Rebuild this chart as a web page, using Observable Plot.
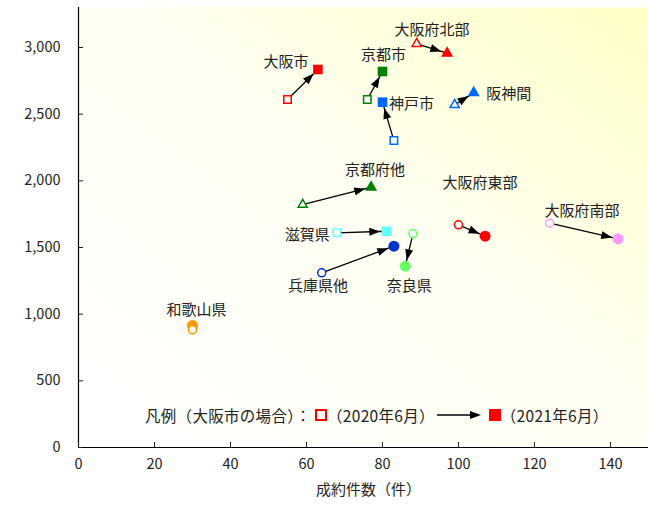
<!DOCTYPE html>
<html><head><meta charset="utf-8">
<script src="https://cdn.jsdelivr.net/npm/d3@7"></script>
<script src="https://cdn.jsdelivr.net/npm/@observablehq/plot@0.6"></script>
<style>
body{margin:0;background:#fff;font-family:"Noto Sans CJK JP",sans-serif;}
#wrap{position:relative;width:648px;height:505px;}
#legend{position:absolute;left:145px;top:404px;font-size:15.5px;line-height:22px;color:#222;display:flex;align-items:center;white-space:nowrap;letter-spacing:0.3px;}
#legend .sq{display:inline-block;box-sizing:border-box;width:12px;height:12px;margin:0 0 0 4px;}
</style></head><body><div id="wrap"></div>
<script>
// ---- data ----
const regions = ["大阪市","大阪府北部","大阪府東部","大阪府南部","京都市","京都府他","神戸市","阪神間","兵庫県他","滋賀県","奈良県","和歌山県"];
const count2020 = [55, 89, 100, 124, 76, 59, 83, 99, 64, 68, 88, 30];
const price2020 = [2610, 3028, 1670, 1682, 2610, 1822, 2302, 2570, 1310, 1610, 1603, 883];
const count2021 = [63, 97, 107, 142, 80, 77, 80, 104, 83, 81, 86, 30];
const price2021 = [2835, 2957, 1585, 1565, 2820, 1952, 2590, 2660, 1510, 1622, 1360, 915];
const xTicks = [0, 20, 40, 60, 80, 100, 120, 140];
const yTicks = [0, 500, 1000, 1500, 2000, 2500, 3000];
const xTitle = "成約件数（件）";

// ---- styles / layout ----
const shapes = ["square","triangle","circle","circle","square","triangle","square","triangle","circle","square","circle","circle"];
const colors = ["#ff0000","#ff0000","#ff0000","#ff99ff","#008000","#008000","#0066ff","#0066ff","#0033cc","#66ffff","#66ff66","#ff9900"];
const labelDx = [-32, -15, -5, -36, 1, 4, 29, 35, -76, -79, 4, 4];
const labelDy = [-7, -23, -53, -28, -16, -17, 2, 1, 40, 4, 20, -15];
const filledR = {square: 5.4, triangle: 4.5, circle: 5.5};
const openR = {square: 4.2, triangle: 3.4, circle: 4};

const data = regions.map((name, i) => ({name, x0: count2020[i], y0: price2020[i], x1: count2021[i], y1: price2021[i], shape: shapes[i], col: colors[i], dx: labelDx[i], dy: labelDy[i]}));
const font = "Noto Sans CJK JP";
const fmt = d3.format(",");

const plot = Plot.plot({
  width: 648, height: 505,
  marginLeft: 78, marginRight: 0, marginTop: 7, marginBottom: 58,
  x: {domain: [0, 150]},
  y: {domain: [0, 3300]},
  color: {type: "identity"},
  style: {fontFamily: font, fontSize: "14px", color: "#222", background: "transparent"},
  marks: [
    Plot.frame({fill: "url(#bgGrad)"}),
    Plot.link(data, {x1: "x0", y1: "y0", x2: "x1", y2: "y1", stroke: "black", strokeWidth: 1.3}),
    ...["square","triangle","circle"].map(sym => Plot.dot(data.filter(d => d.shape === sym), {x: "x1", y: "y1", symbol: sym, r: filledR[sym], fill: d => d.col, stroke: "none"})),
    ...["square","triangle","circle"].map(sym => Plot.dot(data.filter(d => d.shape === sym), {x: "x0", y: "y0", symbol: sym, r: openR[sym], fill: "white", stroke: d => d.col, strokeWidth: 1.5})),
    ...data.map(d => Plot.text([d], {x: "x1", y: "y1", text: "name", dx: d.dx, dy: d.dy, fontSize: 15, fill: "#222"})),
    Plot.ruleX([0], {stroke: "black", strokeWidth: 1.2}),
    Plot.ruleY([0], {stroke: "black", strokeWidth: 1.2}),
    Plot.axisX({ticks: xTicks, tickSize: -5, tickPadding: 16, label: null, fontSize: 14.5}),
    Plot.axisY({ticks: yTicks, tickFormat: fmt, tickSize: -5, tickPadding: 23, label: null, fontSize: 14.5}),
    Plot.text([xTitle], {frameAnchor: "bottom", dy: 47, dx: 5, fontSize: 15, fill: "#222"})
  ]
});

const wrap = document.getElementById("wrap");
wrap.appendChild(plot);

const svg = d3.select(plot);
const defs = svg.insert("defs", ":first-child");
const grad = defs.append("linearGradient").attr("id", "bgGrad").attr("x1", 0).attr("y1", 1).attr("x2", 1).attr("y2", 0);
grad.append("stop").attr("offset", "0%").attr("stop-color", "#ffffff");
grad.append("stop").attr("offset", "55%").attr("stop-color", "#fffff2");
grad.append("stop").attr("offset", "100%").attr("stop-color", "#ffffc6");
defs.append("marker").attr("id", "ah").attr("viewBox", "0 0 11 8").attr("refX", 17).attr("refY", 4)
  .attr("markerWidth", 11).attr("markerHeight", 8).attr("markerUnits", "userSpaceOnUse").attr("orient", "auto")
  .style("overflow", "visible")
  .append("path").attr("d", "M0,0L11,4L0,8Z").attr("fill", "black");
svg.selectAll('g[aria-label="link"] path').each(function() {
  if (this.getTotalLength() < 15) this.remove();
  else this.setAttribute("marker-end", "url(#ah)");
});

// legend
const lg = document.createElement("div");
lg.id = "legend";
lg.innerHTML = '<span>凡例（大阪市の場合）：</span>' +
  '<span class="sq" style="border:2px solid #ff0000;background:#fff"></span>' +
  '<span>（2020年6月）</span>' +
  '<svg width="44" height="10" style="margin:0 4px 0 2px"><line x1="0" y1="5" x2="34" y2="5" stroke="black" stroke-width="1.3"/><path d="M33,1L44,5L33,9Z" fill="black"/></svg>' +
  '<span class="sq" style="background:#ff0000"></span>' +
  '<span>（2021年6月）</span>';
wrap.appendChild(lg);
</script>
</body></html>
